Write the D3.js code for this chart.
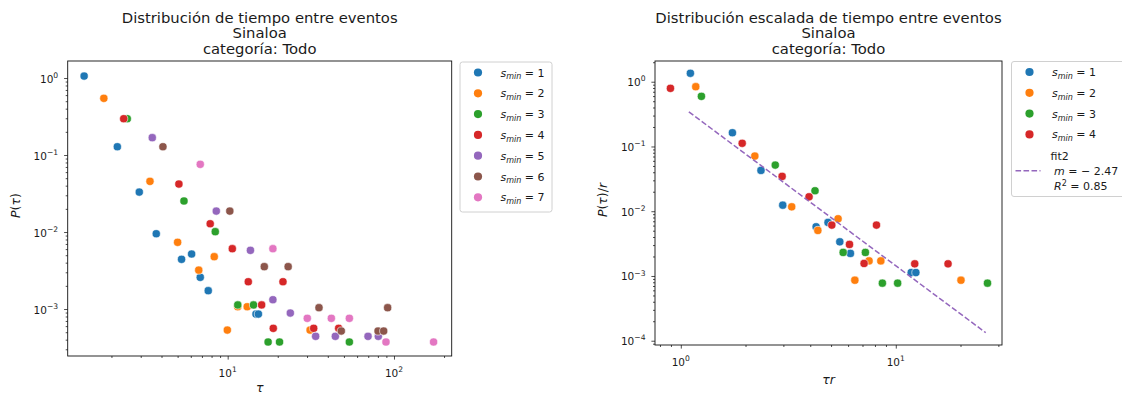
<!DOCTYPE html>
<html>
<head>
<meta charset="utf-8">
<script src="https://cdn.jsdelivr.net/npm/d3@7"></script>
<style>
  body { margin: 0; background: #fff; }
  text { font-family: "DejaVu Sans", sans-serif; fill: #1a1a1a; }
</style>
</head>
<body>
<svg id="chart" width="1122" height="395"></svg>
<script>
// ---- data: inter-event time distribution, Sinaloa, all categories ----
const palette = ["#1f77b4", "#ff7f0e", "#2ca02c", "#d62728", "#9467bd", "#8c564b", "#e377c2"];
const sminLabels = ["1", "2", "3", "4", "5", "6", "7"];

// left panel: tau vs P(tau), one pair of arrays per s_min
const tauS1 = [1.37, 2.17, 2.94, 3.72, 5.28, 6.07, 6.84, 7.64, 14.8, 15.3];
const probS1 = [1.06, 0.128, 0.033, 0.0095, 0.00442, 0.00518, 0.00258, 0.00173, 0.00086, 0.00086];
const tauS2 = [1.80, 3.41, 5.0, 6.70, 8.30, 9.95, 11.5, 13.1, 31.3];
const probS2 = [0.545, 0.0455, 0.00735, 0.0032, 0.00478, 0.000533, 0.00107, 0.00107, 0.000533];
const tauS3 = [2.49, 5.46, 8.42, 11.5, 14.3, 17.5, 20.5, 53.9];
const probS3 = [0.296, 0.0253, 0.0101, 0.00113, 0.00113, 0.000373, 0.000373, 0.000373];
const tauS4 = [2.37, 5.09, 7.85, 10.66, 13.3, 16.0, 18.8, 21.5, 32.9, 46.5];
const probS4 = [0.296, 0.042, 0.0128, 0.00607, 0.00226, 0.00113, 0.000561, 0.00226, 0.000561, 0.000561];
const tauS5 = [3.52, 8.54, 13.7, 18.7, 23.8, 33.8, 44.4, 69.8, 80.5];
const probS5 = [0.168, 0.0187, 0.00578, 0.00132, 0.000887, 0.000442, 0.000442, 0.000442, 0.000442];
const tauS6 = [4.08, 10.3, 16.6, 23.1, 35.4, 48.2, 80.2, 86.7, 91.6];
const probS6 = [0.128, 0.0187, 0.00355, 0.00355, 0.00104, 0.000518, 0.000518, 0.000518, 0.00104];
const tauS7 = [6.84, 18.7, 30.1, 42.0, 53.9, 89.5, 173];
const probS7 = [0.0757, 0.00607, 0.000757, 0.000757, 0.000757, 0.000373, 0.000373];

// right panel: rescaled tau*r vs P(tau)/r
const scaledTauS1 = [1.108, 1.738, 2.36, 2.98, 4.26, 4.84, 5.49, 6.15, 11.8, 12.4];
const scaledProbS1 = [1.35, 0.163, 0.0427, 0.0124, 0.00575, 0.00671, 0.00337, 0.00223, 0.00113, 0.00113];
const scaledTauS2 = [1.174, 2.21, 3.28, 4.34, 5.39, 6.45, 7.51, 8.52, 20.1];
const scaledProbS2 = [0.837, 0.0711, 0.0117, 0.00505, 0.00764, 0.00086, 0.00171, 0.00171, 0.00086];
const scaledTauS3 = [1.247, 2.75, 4.21, 5.69, 7.22, 8.66, 10.2, 26.7];
const scaledProbS3 = [0.594, 0.0516, 0.0207, 0.00231, 0.00231, 0.000774, 0.000774, 0.000774];
const scaledTauS4 = [0.895, 1.93, 2.96, 3.95, 5.04, 6.09, 7.12, 8.13, 12.25, 17.5];
const scaledProbS4 = [0.79, 0.112, 0.0345, 0.0167, 0.0061, 0.00307, 0.00156, 0.0061, 0.00154, 0.00154];

// power-law fit on the rescaled data: P/r = fitCoef * (tau r)^fitSlope
const fitSlope = -2.47;
const fitCoef = 0.424;
const fitR2 = 0.85;
const fitRange = [1.09, 26.2];

const leftTau = [tauS1, tauS2, tauS3, tauS4, tauS5, tauS6, tauS7];
const leftProb = [probS1, probS2, probS3, probS4, probS5, probS6, probS7];
const rightTau = [scaledTauS1, scaledTauS2, scaledTauS3, scaledTauS4];
const rightProb = [scaledProbS1, scaledProbS2, scaledProbS3, scaledProbS4];

// ---- drawing ----
const svg = d3.select("#chart");
const FS_TICK = 10.5, FS_TITLE = 14.8, FS_LABEL = 12.5, FS_LEGEND = 11;

function logTicks(domain) {
  const lo = Math.floor(Math.log10(domain[0])), hi = Math.ceil(Math.log10(domain[1]));
  const major = [], minor = [];
  for (let d = lo; d <= hi; d++) {
    for (let k = 1; k <= 9; k++) {
      const v = k * Math.pow(10, d);
      if (v < domain[0] * 0.9999 || v > domain[1] * 1.0001) continue;
      (k === 1 ? major : minor).push(v);
    }
  }
  return { major, minor };
}

function powLabel(sel, v) {
  const e = Math.round(Math.log10(v));
  sel.append("tspan").text("10");
  sel.append("tspan").attr("dy", -4.8).attr("font-size", 7.6)
    .text(e < 0 ? "\u2212" + (-e) : String(e));
}

function panel(cfg) {
  const x = d3.scaleLog().domain(cfg.xDom).range([cfg.x0, cfg.x1]);
  const y = d3.scaleLog().domain(cfg.yDom).range([cfg.y1, cfg.y0]);
  const g = svg.append("g");

  // ticks
  const xt = logTicks(cfg.xDom), yt = logTicks(cfg.yDom);
  const axX = g.append("g").attr("transform", `translate(0,${cfg.y1})`);
  axX.call(d3.axisBottom(x).tickValues(xt.major).tickSize(3.6).tickFormat(""));
  const axXm = g.append("g").attr("transform", `translate(0,${cfg.y1})`);
  axXm.call(d3.axisBottom(x).tickValues(xt.minor).tickSize(2).tickFormat(""));
  const axY = g.append("g").attr("transform", `translate(${cfg.x0},0)`);
  axY.call(d3.axisLeft(y).tickValues(yt.major).tickSize(3.6).tickFormat(""));
  const axYm = g.append("g").attr("transform", `translate(${cfg.x0},0)`);
  axYm.call(d3.axisLeft(y).tickValues(yt.minor).tickSize(2).tickFormat(""));
  g.selectAll(".domain").remove();
  g.selectAll(".tick line").attr("stroke", "#222").attr("stroke-width", 0.8);

  xt.major.forEach(v => {
    const t = g.append("text").attr("x", x(v)).attr("y", cfg.y1 + 21)
      .attr("text-anchor", "middle").attr("font-size", FS_TICK);
    powLabel(t, v);
  });
  yt.major.forEach(v => {
    const t = g.append("text").attr("x", cfg.x0 - 9.5).attr("y", y(v) + 4.5)
      .attr("text-anchor", "end").attr("font-size", FS_TICK);
    powLabel(t, v);
  });

  // marks
  const plot = g.append("g");
  cfg.xs.forEach((xs, i) => {
    plot.selectAll(null).data(xs.map((v, j) => [v, cfg.ys[i][j]])).enter()
      .append("circle")
      .attr("cx", d => x(d[0])).attr("cy", d => y(d[1])).attr("r", 4.1)
      .attr("fill", palette[i]).attr("stroke", "#fff").attr("stroke-width", 0.6);
  });
  if (cfg.fit) {
    const pts = cfg.fit.range.map(v => [v, cfg.fit.coef * Math.pow(v, cfg.fit.slope)]);
    plot.append("path")
      .attr("d", d3.line().x(d => x(d[0])).y(d => y(d[1]))(pts))
      .attr("fill", "none").attr("stroke", palette[4]).attr("stroke-width", 1.5)
      .attr("stroke-dasharray", "5.6,2.4");
  }

  // frame
  g.append("rect").attr("x", cfg.x0).attr("y", cfg.y0)
    .attr("width", cfg.x1 - cfg.x0).attr("height", cfg.y1 - cfg.y0)
    .attr("fill", "none").attr("stroke", "#111").attr("stroke-width", 0.9);

  // titles
  const cx = (cfg.x0 + cfg.x1) / 2;
  cfg.title.forEach((line, i) => {
    g.append("text").attr("x", cx).attr("y", 23 + i * 15.3)
      .attr("text-anchor", "middle").attr("font-size", FS_TITLE).text(line);
  });

  // axis labels
  const xl = g.append("text").attr("x", cx).attr("y", cfg.y1 + cfg.xLabelDy)
    .attr("text-anchor", "middle").attr("font-size", FS_LABEL);
  cfg.xLabel(xl);
  const cy = (cfg.y0 + cfg.y1) / 2 - 3;
  const yl = g.append("text").attr("transform", `translate(${cfg.x0 - 48},${cy}) rotate(-90)`)
    .attr("text-anchor", "middle").attr("font-size", FS_LABEL);
  cfg.yLabel(yl);
}

function sminText(t, label) {
  t.append("tspan").attr("font-style", "italic").text("s");
  t.append("tspan").attr("font-style", "italic").attr("font-size", 8).attr("dy", 2.9).text("min");
  t.append("tspan").attr("dy", -2.9).text(" = " + label);
}

function legend(cfg) {
  const g = svg.append("g");
  g.append("rect").attr("x", cfg.x).attr("y", cfg.y).attr("width", cfg.w).attr("height", cfg.h)
    .attr("rx", 2.5).attr("fill", "#fff").attr("stroke", "#d0d0d0").attr("stroke-width", 1);
  cfg.n.forEach((lab, i) => {
    const yy = cfg.y + 10.5 + i * 20.8;
    g.append("circle").attr("cx", cfg.x + 18).attr("cy", yy).attr("r", 4.1).attr("fill", palette[i]);
    const t = g.append("text").attr("x", cfg.x + 40.5).attr("y", yy + 4).attr("font-size", FS_LEGEND);
    sminText(t, lab);
  });
  if (cfg.fit) {
    const yy = cfg.y + 10.5 + cfg.n.length * 20.8 + 15.5;
    g.append("line").attr("x1", cfg.x + 4).attr("x2", cfg.x + 29).attr("y1", yy).attr("y2", yy)
      .attr("stroke", palette[4]).attr("stroke-width", 1.5).attr("stroke-dasharray", "5.6,2.4");
    g.append("text").attr("x", cfg.x + 39).attr("y", yy - 11).attr("font-size", FS_LEGEND).text("fit2");
    const m = g.append("text").attr("x", cfg.x + 42.5).attr("y", yy + 4).attr("font-size", FS_LEGEND);
    m.append("tspan").attr("font-style", "italic").text("m");
    m.append("tspan").text(" = \u2212 " + Math.abs(fitSlope).toFixed(2));
    const r = g.append("text").attr("x", cfg.x + 42.5).attr("y", yy + 19.5).attr("font-size", FS_LEGEND);
    r.append("tspan").attr("font-style", "italic").text("R");
    r.append("tspan").attr("font-size", 8).attr("dy", -4.6).text("2");
    r.append("tspan").attr("dy", 4.6).text(" = " + fitR2.toFixed(2));
  }
}

panel({
  x0: 67.7, x1: 451.7, y0: 61, y1: 356,
  xDom: [Math.pow(10, 0.038), Math.pow(10, 2.347)],
  yDom: [Math.pow(10, -3.61), Math.pow(10, 0.221)],
  xs: leftTau, ys: leftProb,
  title: ["Distribución de tiempo entre eventos", "Sinaloa", "categoría: Todo"],
  xLabelDy: 35.5,
  xLabel: t => t.append("tspan").attr("font-style", "italic").text("τ"),
  yLabel: t => {
    t.append("tspan").attr("font-style", "italic").text("P");
    t.append("tspan").text("(");
    t.append("tspan").attr("font-style", "italic").text("τ");
    t.append("tspan").text(")");
  }
});

panel({
  x0: 655, x1: 1002, y0: 61, y1: 345,
  xDom: [Math.pow(10, -0.12), Math.pow(10, 1.494)],
  yDom: [Math.pow(10, -4.066), Math.pow(10, 0.32)],
  xs: rightTau, ys: rightProb,
  fit: { slope: fitSlope, coef: fitCoef, range: fitRange },
  title: ["Distribución escalada de tiempo entre eventos", "Sinaloa", "categoría: Todo"],
  xLabelDy: 38.5,
  xLabel: t => t.append("tspan").attr("font-style", "italic").text("τr"),
  yLabel: t => {
    t.append("tspan").attr("font-style", "italic").text("P");
    t.append("tspan").text("(");
    t.append("tspan").attr("font-style", "italic").text("τ");
    t.append("tspan").text(")/");
    t.append("tspan").attr("font-style", "italic").text("r");
  }
});

legend({ x: 460, y: 62, w: 92, h: 150, n: sminLabels });
legend({ x: 1011.5, y: 61.5, w: 120, h: 135, n: sminLabels.slice(0, 4), fit: true });
</script>
</body>
</html>
